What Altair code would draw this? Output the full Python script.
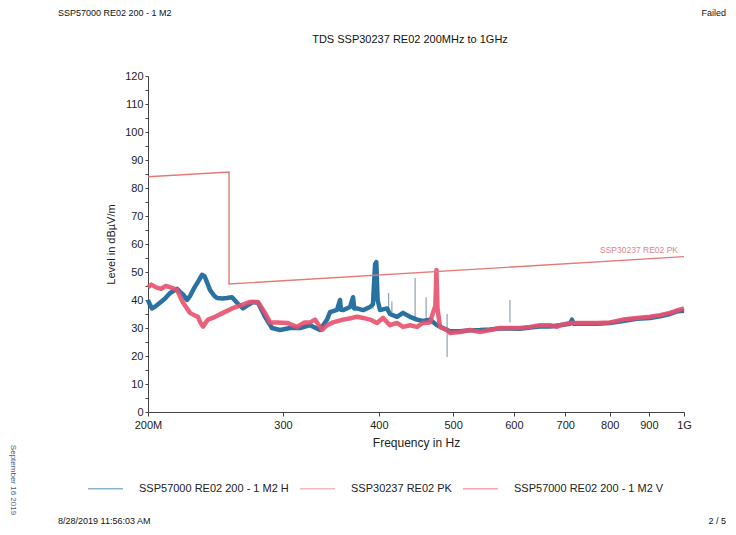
import altair as alt
import pandas as pd

# ---------------- data ----------------
series_names = ["SSP57000 RE02 200 - 1 M2 H", "SSP30237 RE02 PK", "SSP57000 RE02 200 - 1 M2 V"]
series_colors = ["#1f6a9c", "#e47a76", "#e8506e"]

# H trace (blue), frequency in MHz, level in dBuV/m
h_freq = [200, 201, 202.4, 204, 207.3, 210.5, 213.7, 218.2, 220, 222.2, 224.8, 227, 230, 233,
          235.2, 237, 239, 240.9, 244, 246, 250, 253.5, 257.4, 261.3, 266, 269.2, 274.1, 278.3,
          284.2, 290.2, 297.3, 306.3, 315.7, 325.3, 335.2, 342.4, 345.5, 352.8, 356, 357, 359.2,
          366.9, 370.2, 371.5, 374.7, 381.5, 389.6, 393, 395.5, 397, 398.5, 401.4, 409.9, 413.6,
          422.4, 430.1, 439.2, 448.6, 456.7, 466.4, 476.3, 485, 495.3, 510.4, 526, 541.9, 558.5,
          575.4, 593, 611, 629.7, 648.9, 668.7, 689.1, 710.1, 714.3, 718, 738.3, 770, 800.6,
          832.5, 868.3, 902.9, 930.4, 958.8, 982.1, 1000]
h_level = [40, 38.5, 37, 37.5, 39, 40.5, 42.5, 44, 43, 42, 40, 41.5, 44.5, 47,
           49, 48.5, 46, 43.6, 41.5, 40.7, 40.5, 40.7, 41, 39, 37, 38, 39.3, 39,
           34, 30, 29.3, 30, 30, 31, 29.3, 33, 35.7, 36.5, 40, 36.5, 36.4,
           37.5, 41, 37, 37, 36.4, 37.5, 38.5, 52.8, 53.5, 40, 36.4, 37, 35,
           34, 35.4, 34, 33, 32.5, 33, 31, 30, 28.8, 28.8, 29.2, 29.3, 29.5,
           29.8, 29.8, 29.7, 30.2, 30.5, 30.5, 31, 31.5, 33, 31.5, 31.5, 31.5, 31.8,
           32.5, 33.3, 33.6, 34.2, 35, 36, 36.2]

# V trace (pink-red)
v_freq = [200, 202, 205, 208, 211, 214, 218.2, 222.2, 226.9, 230, 232.4, 234, 235.9, 238,
          239.5, 244.6, 250.5, 257.4, 263.6, 271.7, 278.3, 284.2, 288.5, 294.6, 303.6, 312.9,
          320, 325.3, 330.2, 337.3, 342.4, 348.6, 359.2, 369.1, 374.7, 381.5, 389.6, 397.8,
          405, 413.6, 422.4, 430.1, 439.2, 448.6, 456.7, 466.4, 470.6, 474, 475.5, 477, 480.6,
          490.8, 495.3, 510.4, 526, 541.9, 558.5, 575.4, 593, 611, 629.7, 648.9, 668.7, 682.9,
          689.1, 710.1, 738.3, 770, 800.6, 832.5, 868.3, 902.9, 930.4, 958.8, 982.1, 1000]
v_level = [44.5, 45.5, 44.5, 44, 45, 44.5, 43.6, 39, 35.4, 34.5, 34, 32, 30.5, 32,
           33, 34, 35.4, 37, 38, 39.3, 39.3, 35.4, 32, 32, 31.8, 30.4,
           32, 32, 33, 29.3, 31, 32, 33, 33.6, 34, 33.6, 33, 31.8,
           33.6, 31, 31.8, 30.4, 31, 30.4, 31.8, 32, 35.4, 38, 50.7, 37, 30.4,
           29.3, 28.2, 28.6, 29.3, 28.6, 29.3, 30, 30, 30, 30.4, 31, 31, 30.4,
           31, 31.8, 31.8, 31.8, 32, 33, 33.6, 34, 34.6, 35.4, 36.4, 37]

# limit line (PK)
limit_freq = [200, 255.1, 255.1, 1000]
limit_level = [84, 85.7, 45.7, 55.5]
limit_label = "SSP30237 RE02 PK"

# thin narrow-band spikes
spike_freq = [393, 399.5, 412, 416, 446, 461, 491, 593]
spike_low = [37, 40, 36, 34, 33, 32, 19.6, 32]
spike_high = [46, 48, 42.5, 39.5, 47.9, 41, 35, 40]

x_ticks = [200, 300, 400, 500, 600, 700, 800, 900, 1000]
x_tick_labels = ["200M", "300", "400", "500", "600", "700", "800", "900", "1G"]
y_ticks = [0, 5, 10, 15, 20, 25, 30, 35, 40, 45, 50, 55, 60, 65, 70, 75, 80, 85, 90, 95,
           100, 105, 110, 115, 120]
y_tick_labels = ["0", "", "10", "", "20", "", "30", "", "40", "", "50", "", "60", "", "70", "",
                 "80", "", "90", "", "100", "", "110", "", "120"]

header_left = "SSP57000 RE02 200 - 1 M2"
header_right = "Failed"
chart_title = "TDS SSP30237 RE02 200MHz to 1GHz"
footer_left = "8/28/2019 11:56:03 AM"
footer_right = "2 / 5"
side_text = "September 16  2019"

# ---------------- tables ----------------
h_df = pd.DataFrame({"f": h_freq, "L": h_level, "series": series_names[0]})
h_df["i"] = range(len(h_df))
v_df = pd.DataFrame({"f": v_freq, "L": v_level, "series": series_names[2]})
v_df["i"] = range(len(v_df))
lim_df = pd.DataFrame({"f": limit_freq, "L": limit_level, "series": series_names[1]})
lim_df["i"] = range(len(lim_df))
lab_df = pd.DataFrame({"f": [limit_freq[-1]], "L": [limit_level[-1]], "t": [limit_label]})
sp_df = pd.DataFrame({"f": spike_freq, "L": spike_low, "hi": spike_high})

FONT = "Liberation Sans"
W, H = 536, 336


def expr_from(values, labels):
    return " : ".join(f"datum.value == {v} ? '{t}'" for v, t in zip(values, labels)) + " : ''"


xscale = alt.Scale(type="log", domain=[200, 1000], nice=False)
yscale = alt.Scale(domain=[0, 120], nice=False)
cscale = alt.Scale(domain=series_names, range=series_colors)

x_axis = alt.Axis(values=x_ticks, labelExpr=expr_from(x_ticks, x_tick_labels),
                  title="Frequency in Hz",
                  grid=False, tickSize=4, labelPadding=3, labelFontSize=11,
                  labelOverlap=False, labelFlush=False,
                  titleFontSize=12, titleFontWeight="normal", titlePadding=7,
                  domainColor="#444", tickColor="#444", labelColor="#222",
                  titleColor="#222", labelFont=FONT, titleFont=FONT)
y_axis = alt.Axis(values=y_ticks, labelExpr=expr_from(y_ticks, y_tick_labels),
                  title="Level in dBµV/m", grid=False, tickSize=3, labelPadding=2,
                  labelOverlap=False, labelFlush=False,
                  labelFontSize=11, titleFontSize=11, titleFontWeight="normal",
                  titlePadding=8, domainColor="#444", tickColor="#444",
                  labelColor="#222", titleColor="#222", labelFont=FONT, titleFont=FONT)

legend = alt.Legend(orient="none", legendX=-61, legendY=394, direction="horizontal",
                    title=None, symbolType="stroke", symbolSize=1225,
                    symbolStrokeWidth=1.5, symbolOpacity=0.5, labelOffset=15,
                    columnPadding=8, labelFontSize=11, labelFont=FONT,
                    labelColor="#222", padding=0, labelLimit=300)

color_enc = alt.Color("series:N", scale=cscale, legend=legend)


def X():
    return alt.X("f:Q", scale=xscale, axis=x_axis)


def Y():
    return alt.Y("L:Q", scale=yscale, axis=y_axis)


h_line = alt.Chart(h_df).mark_line(strokeWidth=4.5, strokeJoin="round", opacity=0.95).encode(
    x=X(), y=Y(), color=color_enc, order="i:Q")
v_line = alt.Chart(v_df).mark_line(strokeWidth=4.5, strokeJoin="round", opacity=0.9).encode(
    x=X(), y=Y(), color=color_enc, order="i:Q")
lim_line = alt.Chart(lim_df).mark_line(strokeWidth=1.4).encode(
    x=X(), y=Y(), color=color_enc, order="i:Q")
spikes = alt.Chart(sp_df).mark_rule(strokeWidth=1, color="#4f6a86", opacity=0.75).encode(
    x=X(), y=Y(), y2="hi:Q")
lim_text = alt.Chart(lab_df).mark_text(align="right", baseline="bottom", dx=-6, dy=-2,
                                       fontSize=8.5, font=FONT, color="#e08585").encode(
    x=X(), y=Y(), text="t:N")


def note(text, x, y, size=9, align="left", color="#111", angle=0):
    return alt.Chart(pd.DataFrame({"t": [text]})).mark_text(
        align=align, baseline="middle", fontSize=size, font=FONT, color=color, angle=angle
    ).encode(x=alt.value(x), y=alt.value(y), text="t:N")


notes = [
    note(header_left, -90, -63, 9),
    note(header_right, 578, -63, 9, align="right"),
    note(chart_title, 262, -36, 11, align="center"),
    note(footer_left, -90, 445, 9),
    note(footer_right, 578, 445, 9, align="right"),
    note(side_text, -135, 404, 8, align="center", color="#4a5a80", angle=90),
]

chart = alt.layer(spikes, h_line, v_line, lim_line, lim_text, *notes).properties(
    width=W, height=H,
    autosize="none",
    padding={"left": 140, "top": 68, "right": 44, "bottom": 115},
    background="white",
).configure_view(stroke=None)

chart.save("out.html", embed_options={"renderer": "svg", "actions": False})
